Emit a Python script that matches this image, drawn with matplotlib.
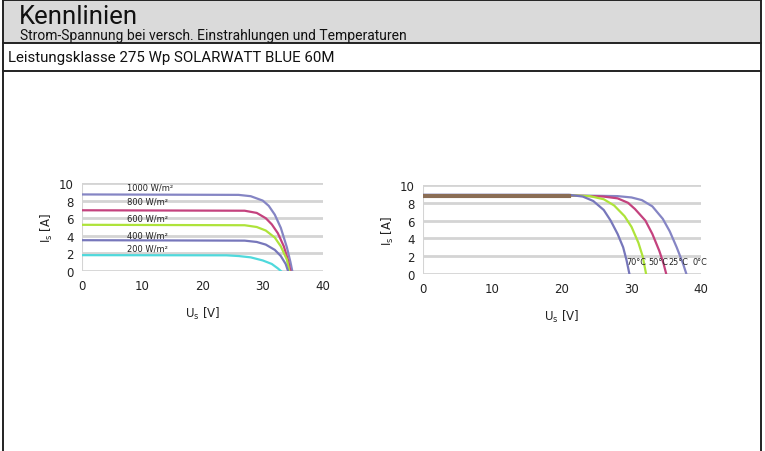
import matplotlib
matplotlib.use('Agg')
import matplotlib.pyplot as plt
from matplotlib.patches import Rectangle
from matplotlib.lines import Line2D

W, H = 765, 452

title = 'Kennlinien'
subtitle = 'Strom-Spannung bei versch. Einstrahlungen und Temperaturen'
section = 'Leistungsklasse 275 Wp SOLARWATT BLUE 60M'

# I-V curves at different irradiance (voltage V, current A)
irr_labels = ['1000 W/m²', '800 W/m²', '600 W/m²', '400 W/m²', '200 W/m²']
irr_u = [
    [0, 26, 28, 30, 31, 32, 33, 34, 34.6, 34.9],
    [0, 27, 29, 30.5, 31.5, 32.5, 33.5, 34.2, 34.6],
    [0, 27, 29, 30.5, 32, 33, 34, 34.4],
    [0, 27, 29, 30.5, 32, 33, 33.8, 34.2],
    [0, 24, 26, 28, 30, 31.5, 32.5, 33],
]
irr_i = [
    [8.7, 8.65, 8.5, 8.0, 7.4, 6.4, 4.9, 2.7, 1.0, 0],
    [6.9, 6.85, 6.6, 6.0, 5.3, 4.3, 2.8, 1.2, 0],
    [5.25, 5.2, 5.0, 4.6, 3.8, 2.8, 1.3, 0],
    [3.5, 3.45, 3.3, 3.0, 2.4, 1.7, 0.8, 0],
    [1.8, 1.78, 1.7, 1.55, 1.2, 0.8, 0.3, 0],
]
irr_label_y = [9.5, 7.95, 6.0, 4.1, 2.6]
irr_colors = ['#8585c4', '#c4427e', '#aee33a', '#7777bb', '#4fd9dc']

# I-V curves at different temperatures (1000 W/m²)
temp_labels = ['0°C', '25°C', '50°C', '70°C']
temp_u = [
    [0, 21, 24, 28, 30, 31.5, 33, 34.5, 35.5, 36.5, 37.4, 37.9],
    [0, 21, 22, 26, 28, 29.5, 30.5, 32, 33, 34, 34.6, 35.0],
    [0, 21, 24, 26, 27.5, 29, 30, 31, 31.6, 32.1],
    [0, 21, 23, 24.5, 26, 27, 28, 28.8, 29.3, 29.7],
]
temp_i = [
    [8.8, 8.8, 8.8, 8.75, 8.6, 8.3, 7.6, 6.2, 4.8, 3.0, 1.2, 0],
    [8.8, 8.8, 8.8, 8.7, 8.5, 8.0, 7.3, 6.0, 4.5, 2.6, 1.2, 0],
    [8.85, 8.85, 8.75, 8.4, 7.7, 6.5, 5.3, 3.5, 2.0, 0],
    [8.9, 8.9, 8.7, 8.2, 7.2, 6.0, 4.5, 3.0, 1.5, 0],
]
temp_label_x = [38.8, 35.3, 32.4, 29.3]
temp_colors = ['#8585c4', '#c4427e', '#aee33a', '#7777bb']
overlap_color = '#8a6d55'

head_font = ['Roboto', 'DejaVu Sans']
plt.rcParams['font.family'] = ['DejaVu Sans']

fig = plt.figure(figsize=(W / 100, H / 100), dpi=100)


def fx(px):
    return px / W


def fy(py):
    return 1 - py / H


# header box and frame
fig.add_artist(Rectangle((fx(3), fy(44)), fx(758), 44 / H, facecolor='#dadada',
                         edgecolor='none', transform=fig.transFigure))
for y in [1, 44, 72]:
    fig.add_artist(Line2D([fx(3), fx(761)], [fy(y), fy(y)], color='#222222', lw=1.4))
for x in [3, 761]:
    fig.add_artist(Line2D([fx(x), fx(x)], [fy(1), 0], color='#222222', lw=1.4))

fig.text(fx(19), fy(24), title, fontsize=18.5, family=head_font, va='baseline', color='#111111')
fig.text(fx(20), fy(40), subtitle, fontsize=10, family=head_font, va='baseline', color='#111111')
fig.text(fx(8), fy(58), section, fontsize=10.8, family=head_font, va='center', color='#111111')


def style(ax):
    ax.set_xlim(0, 40)
    ax.set_ylim(0, 10)
    ax.set_xticks([0, 10, 20, 30, 40])
    ax.set_yticks([0, 2, 4, 6, 8, 10])
    for s in ax.spines.values():
        s.set_visible(False)
    ax.grid(axis='y', color='#d4d4d4', lw=2)
    ax.axvline(0, color='#d4d4d4', lw=1.5, zorder=0)
    ax.set_axisbelow(True)
    ax.tick_params(length=0, labelsize=8.5, colors='#222222', pad=6)
    ax.set_xlabel(r'U$_{\mathregular{s}}$ [V]', fontsize=8.5, color='#222222', labelpad=9)
    ax.set_ylabel(r'I$_{\mathregular{s}}$ [A]', fontsize=8.5, color='#222222', labelpad=3)


# left chart
ax1 = fig.add_axes([fx(82), fy(272), fx(241), 88 / H])
style(ax1)
for u, i, c, lab, ly in zip(irr_u, irr_i, irr_colors, irr_labels, irr_label_y):
    ax1.plot(u, i, color=c, lw=1.6, solid_joinstyle='round')
    ax1.text(7.5, ly, lab, fontsize=6, color='#222222', va='center', ha='left')

# right chart
ax2 = fig.add_axes([fx(423), fy(275), fx(278), 89 / H])
style(ax2)
for u, i, c in zip(temp_u, temp_i, temp_colors):
    ax2.plot(u, i, color=c, lw=1.6, solid_joinstyle='round')
for u, i in zip(temp_u, temp_i):
    ax2.plot(u[:2], i[:2], color=overlap_color, lw=2.2)
for x, lab in zip(temp_label_x, temp_labels):
    ax2.text(x, 1.35, lab, fontsize=5.9, color='#222222', va='center', ha='left',
             clip_on=False)

fig.savefig('out.png', dpi=100)
